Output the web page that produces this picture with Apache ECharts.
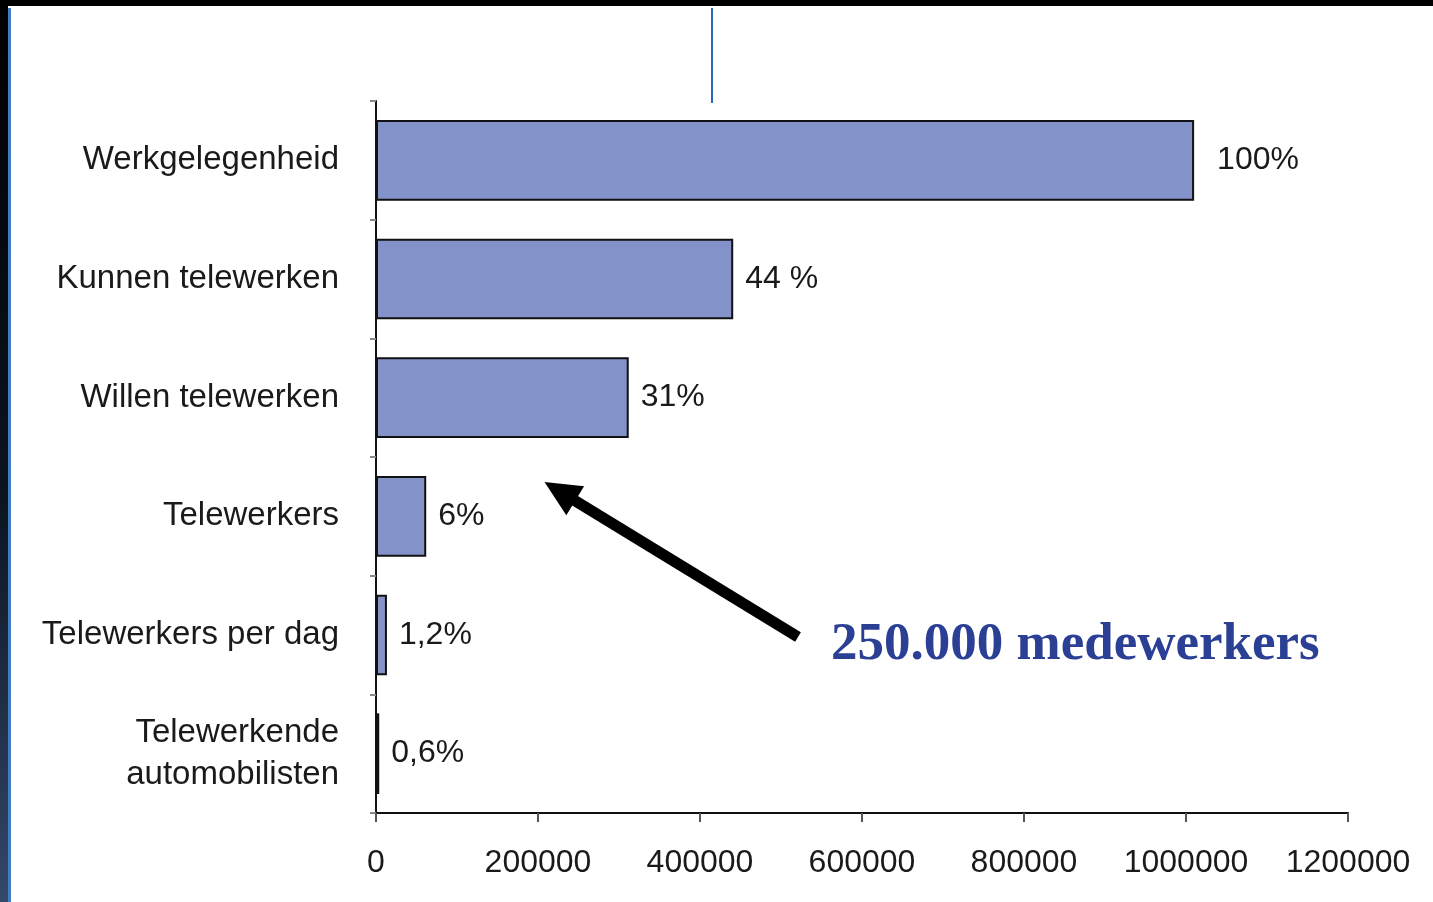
<!DOCTYPE html>
<html>
<head>
<meta charset="utf-8">
<title>Telewerken</title>
<script src="https://cdn.jsdelivr.net/npm/echarts@6/dist/echarts.min.js"></script>
<style>
  html, body { margin: 0; padding: 0; background: #ffffff; }
  #chart { width: 1433px; height: 902px; }
</style>
</head>
<body>
<div id="chart"></div>
<script>
// Categories (top to bottom)
const categories = [
  'Werkgelegenheid',
  'Kunnen telewerken',
  'Willen telewerken',
  'Telewerkers',
  'Telewerkers per dag',
  'Telewerkende\nautomobilisten'
];
// Number of employees per category
const values = [1010000, 441000, 312000, 62000, 13500, 4000];
// Share labels shown next to each bar
const shareLabels = ['100%', '44 %', '31%', '6%', '1,2%', '0,6%'];
// X axis
const xMin = 0;
const xMax = 1200000;
const xStep = 200000;

const annotationText = '250.000 medewerkers';

const FONT = '"Liberation Sans", Arial, sans-serif';

const chart = echarts.init(document.getElementById('chart'), null, { renderer: 'canvas' });

const grid = { left: 376, top: 101, width: 972, height: 712 };

const option = {
  backgroundColor: '#ffffff',
  animation: false,
  grid: grid,
  xAxis: {
    type: 'value',
    min: xMin,
    max: xMax,
    interval: xStep,
    splitLine: { show: false },
    axisLine: { show: true, lineStyle: { color: '#111', width: 2 } },
    axisTick: { show: true, length: 9, lineStyle: { color: '#555', width: 2 } },
    axisLabel: {
      margin: 34,
      fontFamily: FONT,
      fontSize: 32,
      color: '#1a1a1a',
      formatter: v => String(v)
    }
  },
  yAxis: {
    type: 'category',
    inverse: true,
    data: categories,
    axisLine: { show: true, lineStyle: { color: '#111', width: 2 } },
    axisTick: { show: true, length: 6, lineStyle: { color: '#888', width: 2 } },
    axisLabel: {
      margin: 37,
      fontFamily: FONT,
      fontSize: 33,
      lineHeight: 42,
      padding: [4, 0, 0, 0],
      color: '#1a1a1a',
      align: 'right'
    }
  },
  series: [{
    type: 'bar',
    data: values.map((v, i) => ({
      value: v,
      label: { distance: i === 0 ? 23 : 12 }
    })),
    barCategoryGap: '32%',
    itemStyle: { color: '#8393c9', borderColor: '#111', borderWidth: 2 },
    label: {
      show: true,
      position: 'right',
      fontFamily: FONT,
      fontSize: 32,
      color: '#1a1a1a',
      formatter: p => shareLabels[p.dataIndex]
    }
  }]
};

chart.setOption(option);

// Annotation: arrow towards the "Willen telewerken" bar and its caption
const tail = chart.convertToPixel({ xAxisIndex: 0, yAxisIndex: 0 }, [521000, categories[4]]);
tail[1] += 2;
const tip = [chart.convertToPixel({ xAxisIndex: 0 }, 208000), 482];
const dx = tip[0] - tail[0], dy = tip[1] - tail[1];
const len = Math.sqrt(dx * dx + dy * dy);
const ux = dx / len, uy = dy / len;
const headLen = 36, headHalf = 17;
const base = [tip[0] - ux * headLen, tip[1] - uy * headLen];
const px = -uy, py = ux;

chart.setOption({
  graphic: [
    // frame: black top band
    { type: 'rect', shape: { x: 0, y: 0, width: 1433, height: 6 }, style: { fill: '#000' }, silent: true },
    // frame: dark left band
    {
      type: 'rect', shape: { x: 0, y: 0, width: 8, height: 902 }, silent: true,
      style: {
        fill: new echarts.graphic.LinearGradient(0, 0, 0, 1, [
          { offset: 0, color: '#000000' },
          { offset: 0.55, color: '#0c1420' },
          { offset: 1, color: '#34486a' }
        ])
      }
    },
    // frame: thin blue rule
    { type: 'rect', shape: { x: 8, y: 8, width: 3, height: 894 }, style: { fill: '#3f7cc4' }, silent: true },
    // short blue vertical rule above the plot
    { type: 'line', shape: { x1: 712, y1: 8, x2: 712, y2: 103 }, style: { stroke: '#2a68b6', lineWidth: 2 }, silent: true },
    // arrow shaft
    {
      type: 'line', silent: true,
      shape: { x1: tail[0], y1: tail[1], x2: base[0] + ux * 4, y2: base[1] + uy * 4 },
      style: { stroke: '#000', lineWidth: 11, lineCap: 'butt' }
    },
    // arrow head
    {
      type: 'polygon', silent: true,
      shape: {
        points: [
          tip,
          [base[0] + px * headHalf, base[1] + py * headHalf],
          [base[0] - px * headHalf, base[1] - py * headHalf]
        ]
      },
      style: { fill: '#000' }
    },
    // caption
    {
      type: 'text', silent: true,
      x: 831, y: 645,
      style: {
        text: annotationText,
        fill: '#2b3f94',
        font: 'bold 53px "Liberation Serif", "Times New Roman", serif',
        textAlign: 'left',
        textVerticalAlign: 'middle'
      }
    }
  ]
});
</script>
</body>
</html>
